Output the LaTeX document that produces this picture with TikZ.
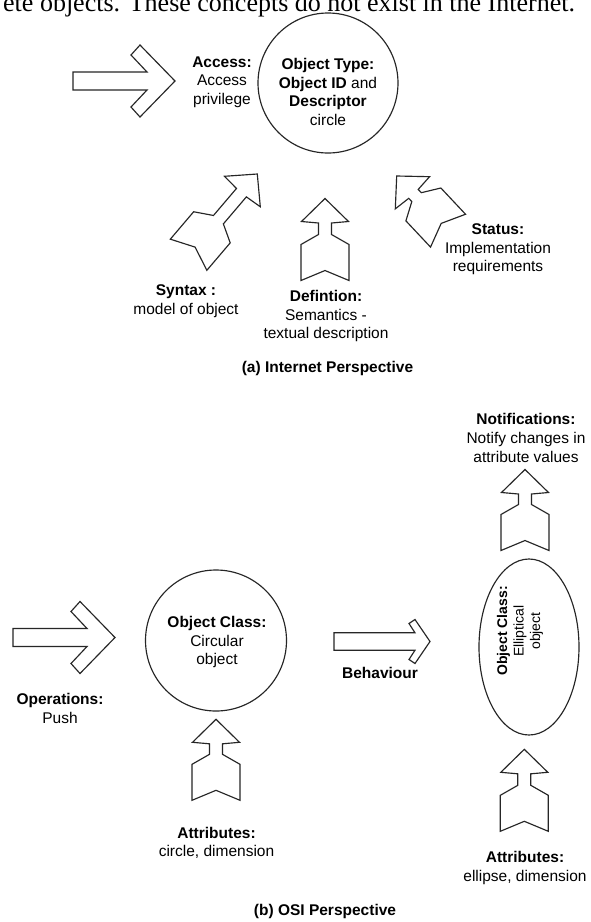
\documentclass[tikz,border=0pt]{standalone}
\usepackage{fontspec}
\setmainfont{Liberation Sans}
\newfontfamily\bodyserif{Liberation Serif}
\usetikzlibrary{shapes.geometric}
\begin{document}
\begin{tikzpicture}[x=1pt, y=-1pt,
  ink/.style={draw=black!85, line width=1.15pt, line join=miter, miter limit=10},
  lbl/.style={align=center, inner sep=0pt, font=\fontsize{15.5}{18.6}\selectfont},
  smalllbl/.style={align=center, inner sep=0pt, font=\fontsize{14}{16.5}\selectfont},
  caption/.style={inner sep=0pt, font=\bfseries\fontsize{15.5}{18.6}\selectfont},
  % block arrow with notched tail, tip at the origin, pointing up; #1 lengthens the neck
  pics/quiver/.style={code={
    \draw[ink] (0,0) -- (23.5,23) -- (6.5,24.5) -- (6.5,{35+(#1)}) -- (24,{45+(#1)})
      -- (24,{81+(#1)}) -- (0,{71+(#1)}) -- (-24,{81+(#1)}) -- (-24,{45+(#1)})
      -- (-6.5,{35+(#1)}) -- (-6.5,24.5) -- (-23.5,23) -- cycle;}},
  % wide chevron-headed arrow, tip at the origin, pointing right
  pics/bigdart/.style={code={
    \draw[ink] (0,0) -- (-35,-36) -- (-44,-26) -- (-28,-9) -- (-102,-9) -- (-102,9)
      -- (-28,9) -- (-44,26) -- (-35,36) -- cycle;}},
  % narrow-headed arrow, tip at the origin, pointing right
  pics/slimdart/.style={code={
    \draw[ink] (0,0) -- (-15,-22) -- (-21,-18) -- (-15,-8.7) -- (-96,-8.7) -- (-96,8.7)
      -- (-15,8.7) -- (-21,18) -- (-15,22) -- cycle;}},
]
\fill[white] (0,0) rectangle (591,922);
\useasboundingbox (0,0) rectangle (591,922);

% running text of the page above the figure
\node[anchor=base west, inner sep=0pt, font=\bodyserif\fontsize{26}{30}\selectfont] (runon) at (3,11)
  {ete objects. These concepts do not exist in the Internet.};

% ---------- (a) Internet perspective ----------
\node[ink, circle, minimum size=140pt, inner sep=0pt] (otype) at (328,83) {};
\node[lbl] (otypetext) at (328,92)
  {\textbf{Object Type:}\\\textbf{Object ID} and\\\textbf{Descriptor}\\circle};
\node[lbl] (access) at (222,82) {\textbf{Access:}\\Access\\privilege};
\pic (accarrow) at (175,81) {bigdart};

\pic[rotate=-40.4] (synarrow) at (257.3,174) {quiver=25};
\pic (defarrow) at (325,198.5) {quiver=1};
\pic[rotate=43.2] (statarrow) at (396.7,176) {quiver=-6};

\node[lbl] (syntax) at (186,301) {\textbf{Syntax :}\\model of object};
\node[lbl] (defn) at (326,316) {\textbf{Defintion:}\\Semantics -\\textual description};
\node[lbl] (status) at (498,249.5) {\textbf{Status:}\\Implementation\\requirements};
\node[caption] (capa) at (327.5,368.5) {(a) Internet Perspective};

% ---------- (b) OSI perspective ----------
\node[lbl] (notif) at (526,438) {\textbf{Notifications:}\\Notify changes in\\attribute values};
\pic (notarrow) at (525,469.5) {quiver=0};
\node[ink, ellipse, minimum width=100pt, minimum height=176pt, inner sep=0pt] (eclass) at (529,647) {};
\node[smalllbl, rotate=90] (eclasstext) at (520,631) {\textbf{Object Class:}\\Elliptical\\object};

\node[ink, circle, minimum size=141pt, inner sep=0pt] (cclass) at (216,640.5) {};
\node[lbl] (cclasstext) at (217,642) {\textbf{Object Class:}\\Circular\\object};
\pic (oparrow) at (115,637.5) {bigdart};
\pic (beharrow) at (430,641.5) {slimdart};
\node[lbl] (behav) at (380,673) {\textbf{Behaviour}};
\node[lbl] (oper) at (60,708.5) {\textbf{Operations:}\\Push};

\pic (attarrow) at (216,719.3) {quiver=0};
\node[lbl] (attr) at (216.5,843) {\textbf{Attributes:}\\circle, dimension};
\pic (eattarrow) at (524.3,749.3) {quiver=1};
\node[lbl] (eattr) at (525,868) {\textbf{Attributes:}\\ellipse, dimension};
\node[caption] (capb) at (325,911) {(b) OSI Perspective};
\end{tikzpicture}
\end{document}
